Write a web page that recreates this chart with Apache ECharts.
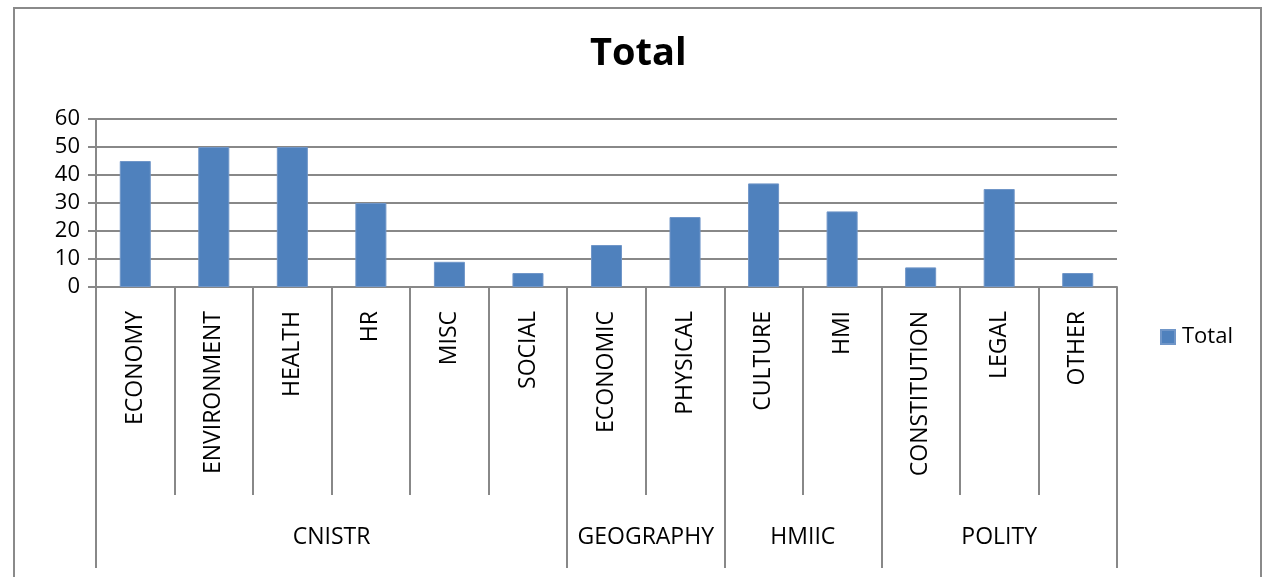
<!DOCTYPE html>
<html>
<head>
<meta charset="utf-8">
<script src="https://cdn.jsdelivr.net/npm/echarts@6/dist/echarts.min.js"></script>
<style>
  html, body { margin: 0; padding: 0; background: #ffffff; }
  #chart { width: 1265px; height: 577px; }
</style>
</head>
<body>
<div id="chart"></div>
<script>
const categories = ['ECONOMY', 'ENVIRONMENT', 'HEALTH', 'HR', 'MISC', 'SOCIAL', 'ECONOMIC', 'PHYSICAL', 'CULTURE', 'HMI', 'CONSTITUTION', 'LEGAL', 'OTHER'];
const totals = [45, 50, 50, 30, 9, 5, 15, 25, 37, 27, 7, 35, 5];
const groups = ['CNISTR', 'GEOGRAPHY', 'HMIIC', 'POLITY'];
const groupSizes = [6, 2, 2, 3];
const yTicks = [0, 10, 20, 30, 40, 50, 60];

// group boundaries and centers in category units
const bounds = [0];
groupSizes.forEach(s => bounds.push(bounds[bounds.length - 1] + s));
const centers = groupSizes.map((s, i) => bounds[i] + s / 2);

const FONT = '"Open Sans", sans-serif';
const GRAY = '#888888';

const chart = echarts.init(document.getElementById('chart'));
chart.setOption({
  animation: false,
  backgroundColor: '#ffffff',
  textStyle: { fontFamily: FONT },
  title: {
    text: 'Total',
    left: 590,
    top: 35,
    padding: 0,
    textStyle: { fontFamily: FONT, fontSize: 38, fontWeight: 'bold', color: '#000' }
  },
  legend: {
    data: ['Total'],
    left: 1160,
    top: 326,
    padding: 0,
    icon: 'rect',
    itemWidth: 14,
    itemHeight: 14,
    itemGap: 6,
    textStyle: { fontFamily: FONT, fontSize: 22, color: '#000', padding: [0, 0, 0, 2] }
  },
  grid: { left: 96, right: 148, top: 119, bottom: 290, containLabel: false },
  xAxis: [
    {
      type: 'category',
      data: categories,
      axisLine: { show: true, lineStyle: { color: GRAY, width: 2 } },
      axisTick: { show: true, interval: 0, length: 208, alignWithLabel: false, lineStyle: { color: GRAY, width: 2 } },
      axisLabel: { interval: 0, rotate: 90, margin: 24, fontSize: 23, color: '#000', fontFamily: FONT },
      splitLine: { show: false }
    },
    {
      type: 'value',
      min: bounds[0],
      max: bounds[bounds.length - 1],
      position: 'bottom',
      offset: 208,
      axisLine: { show: false },
      axisTick: { show: true, customValues: bounds, length: 73, lineStyle: { color: GRAY, width: 2 } },
      axisLabel: {
        customValues: centers,
        margin: 31,
        fontSize: 23,
        color: '#000',
        fontFamily: FONT,
        formatter: function (v) {
          const idx = centers.findIndex(c => Math.abs(c - v) < 1e-6);
          return idx >= 0 ? groups[idx] : '';
        }
      },
      splitLine: { show: false }
    }
  ],
  yAxis: {
    type: 'value',
    min: yTicks[0],
    max: yTicks[yTicks.length - 1],
    interval: yTicks[1] - yTicks[0],
    axisLine: { show: true, lineStyle: { color: GRAY, width: 2 } },
    axisTick: { show: true, length: 8, lineStyle: { color: GRAY, width: 2 } },
    axisLabel: { margin: 16, fontSize: 22, color: '#000', fontFamily: FONT },
    splitLine: { show: true, lineStyle: { color: GRAY, width: 2 } }
  },
  series: [{
    name: 'Total',
    type: 'bar',
    data: totals,
    barWidth: '39.5%',
    itemStyle: { color: '#4F81BD', borderColor: '#7096c8', borderWidth: 1 }
  }],
  graphic: [{
    type: 'rect',
    shape: { x: 14, y: 8, width: 1247, height: 620 },
    style: { fill: 'none', stroke: '#8a8a8a', lineWidth: 2 },
    silent: true,
    z: -1
  }]
});
</script>
</body>
</html>
